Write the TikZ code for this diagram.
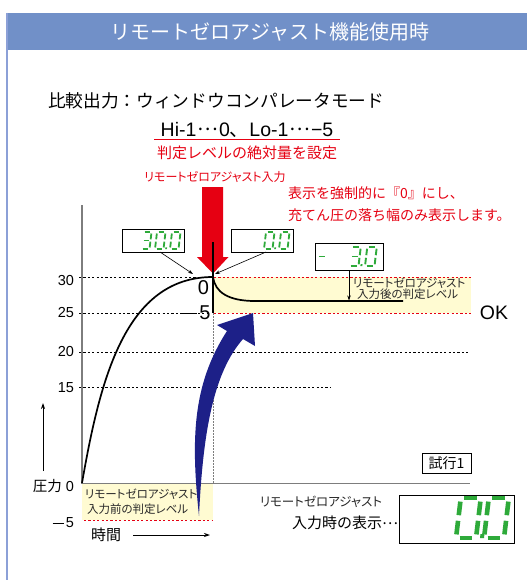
\documentclass[tikz,border=0pt]{standalone}
\usepackage{fontspec}
\setmainfont{Liberation Sans}
\newfontfamily\cjk{Noto Sans CJK JP}
\newfontfamily\cjkp[RawFeature=+palt]{Noto Sans CJK JP}
\usetikzlibrary{arrows.meta}
\definecolor{titlebg}{RGB}{113,144,200}
\definecolor{leftln}{RGB}{140,160,215}
\definecolor{jred}{RGB}{230,0,18}
\definecolor{navy}{RGB}{29,32,136}
\definecolor{band}{RGB}{255,251,210}
\definecolor{segg}{RGB}{46,170,58}
\definecolor{axgray}{RGB}{125,125,125}
\definecolor{lbl}{RGB}{40,40,40}
\newcommand\fs[1]{\fontsize{#1}{#1}\selectfont}
\newcommand\wminus{\rule[0.27em]{0.8em}{0.075em}\hspace{0.12em}}
\newcommand\mdots{\raisebox{0.3em}{\cjk …}}
% seven-segment helpers
\newcommand\sgA{\draw (0.09,-1) -- (0.41,-1);}
\newcommand\sgB{\draw (0.5,-0.91) -- (0.5,-0.57);}
\newcommand\sgC{\draw (0.5,-0.43) -- (0.5,-0.09);}
\newcommand\sgD{\draw (0.09,0) -- (0.41,0);}
\newcommand\sgE{\draw (0,-0.43) -- (0,-0.09);}
\newcommand\sgF{\draw (0,-0.91) -- (0,-0.57);}
\newcommand\sgG{\draw (0.09,-0.5) -- (0.41,-0.5);}
\newcommand\dpt{\fill (0.6,-0.1) rectangle (0.7,0);}
\newcommand\digZero{\sgA\sgB\sgC\sgD\sgE\sgF}
\newcommand\digThree{\sgA\sgB\sgC\sgD\sgG}
\newcommand\sevenseg[5]{\begin{scope}[shift={(#1,#2)},xslant=0.12,scale=#3,line width=#4,color=segg]#5\end{scope}}
\begin{document}
\begin{tikzpicture}[x=1pt,y=-1pt,
  txt/.style={inner sep=0pt,outer sep=0pt},
  disp/.style={draw=black,line width=0.9pt,fill=white,inner sep=0pt},
  dsh/.style={dash pattern=on 2.2pt off 2.2pt,line width=0.7pt},
  lead/.style={line width=0.6pt,-{Stealth[length=5pt,width=3.5pt]}},
  axis/.style={axgray,line width=1.3pt},
]
\fill[white] (0,0) rectangle (527,580);
\useasboundingbox (0,0) rectangle (527,580);

% title
\fill[titlebg] (7,13) rectangle (527,50);
\draw[leftln,line width=1.2pt] (7,13) -- (7,580);
\node[txt,text=white,font=\cjk\fs{20}] (title) at (270,32) {リモートゼロアジャスト機能使用時};

% headings
\node[txt,anchor=west,font=\cjk\fs{17.7}] (cmp) at (48,101) {比較出力：ウィンドウコンパレータモード};
\node[txt,font=\fs{19.5}] (hilo) at (247,130) {Hi-1\hspace{1pt}\mdots\hspace{1pt}0{\cjk 、}Lo-1\hspace{1pt}\mdots\hspace{1pt}−5};
\draw[jred,line width=1pt] (154,140) -- (340,140);
\node[txt,text=jred,font=\cjk\fs{15}] (abs) at (247,153) {判定レベルの絶対量を設定};
\node[txt,text=jred,font=\cjkp\fs{12}] (rzin) at (215,177) {リモートゼロアジャスト入力};
\node[txt,anchor=west,text=jred,font=\cjk\fs{14}] (note1) at (288,193) {表示を強制的に『0』にし、};
\node[txt,anchor=west,text=jred,font=\cjk\fs{14}] (note2) at (288,215) {充てん圧の落ち幅のみ表示します。};

% bands
\fill[band] (213,277) rectangle (471,313);
\fill[band] (82,483) rectangle (213,520);

% dashed level lines
\draw[dsh] (79,277) -- (210,277);
\draw[dsh] (79,313) -- (210,313);
\draw[dsh] (79,352) -- (470,352);
\draw[dsh] (79,387) -- (330,387);
\draw[dsh,jred] (214,277) -- (471,277);
\draw[dsh,jred] (214,313) -- (471,313);
\draw[dsh,jred] (84,483) -- (213,483);
\draw[dsh,jred] (84,520) -- (213,520);
\draw[axgray,line width=0.8pt,dash pattern=on 1.5pt off 1.5pt] (213,313) -- (213,483);

% axes
\draw[axis] (82,205) -- (82,484);
\draw[axis] (82,483.5) -- (470,483.5);

% curves
\draw[line width=1.7pt] (82,483) .. controls (100,380) and (125,277) .. (213,277);
\draw[line width=1.7pt] (213,277) .. controls (215,292) and (228,301) .. (255,301) -- (403,301);

% red input arrow
\fill[jred] (202,187) -- (223,187) -- (223,257) -- (228.5,257) -- (213,273.5) -- (197,257) -- (202,257) -- cycle;
\draw[line width=1.2pt] (213,242) -- (213,313);

% axis labels
\node[txt,anchor=east,font=\fs{14.5}] (l30) at (74,281) {30};
\node[txt,anchor=east,font=\fs{14.5}] (l25) at (74,313) {25};
\node[txt,anchor=east,font=\fs{14.5}] (l20) at (74,352) {20};
\node[txt,anchor=east,font=\fs{14.5}] (l15) at (74,388) {15};
\node[txt,anchor=east,font=\fs{14.5}] (l0) at (74,486) {{\cjk 圧力} 0};
\node[txt,anchor=east,font=\fs{14.5}] (lm5) at (74,523) {\wminus 5};
\node[txt,font=\fs{20}] (z0) at (203.5,288) {0};
\node[txt,anchor=east,font=\fs{20}] (zm5) at (210.5,313) {\wminus 5};
\node[txt,font=\fs{19.5}] (ok) at (494,313) {OK};
\coordinate (upb) at (43,471);
\coordinate (upt) at (43,403);
\draw[line width=0.8pt,-{Stealth[length=6pt,width=4pt]}] (upb) -- (upt);
\node[txt,font=\cjk\fs{15}] (time) at (106,535) {時間};
\coordinate (tb) at (133,535);
\coordinate (te) at (210,535);
\draw[line width=0.8pt,-{Stealth[length=6pt,width=4pt]}] (tb) -- (te);

% band labels
\node[txt,anchor=west,font=\cjkp\fs{11.5},text=lbl] (pre1) at (85,494) {リモートゼロアジャスト};
\node[txt,anchor=west,font=\cjkp\fs{11.5},text=lbl] (pre2) at (87,509) {入力前の判定レベル};
\node[txt,anchor=west,font=\cjkp\fs{11.5},text=lbl] (post1) at (353,283) {リモートゼロアジャスト};
\node[txt,anchor=west,font=\cjkp\fs{11.5},text=lbl] (post2) at (357,294.5) {入力後の判定レベル};

% displays
\node[disp,minimum width=62pt,minimum height=23pt] (d1) at (153,240.5) {};
\node[disp,minimum width=62pt,minimum height=23pt] (d2) at (262,240.5) {};
\node[disp,minimum width=68pt,minimum height=27pt] (d3) at (349,256.5) {};
\node[disp,minimum width=115pt,minimum height=48pt] (d4) at (456.5,519) {};
\sevenseg{141}{249}{17}{1.8pt}{\digThree}
\sevenseg{155}{249}{17}{1.8pt}{\digZero\dpt}
\sevenseg{170}{249}{17}{1.8pt}{\digZero}
\sevenseg{264}{249}{17}{1.8pt}{\digZero\dpt}
\sevenseg{279}{249}{17}{1.8pt}{\digZero}
\sevenseg{316}{266}{19}{1.8pt}{\sgG}
\sevenseg{349}{266}{19}{1.9pt}{\digThree\dpt}
\sevenseg{365}{266}{19}{1.9pt}{\digZero}
\sevenseg{456}{538}{40}{4.6pt}{\digZero\dpt}
\sevenseg{484}{538}{40}{4.6pt}{\digZero}

% leaders
\coordinate (s1) at (160,252);
\coordinate (pk1) at (193,274);
\coordinate (s2) at (266,252);
\coordinate (pk2) at (215,274);
\draw[lead] (s1) -- (pk1);
\draw[lead] (s2) -- (pk2);
\draw[lead] (d3.south) -- ++(0,30);

% trial box and bottom display label
\node[draw,line width=0.9pt,inner sep=0pt,minimum width=49pt,minimum height=20pt,font=\cjk\fs{14}] (trial) at (446.5,463) {試行1};
\node[txt,font=\cjkp\fs{12.5},text=lbl] (disp1) at (321,502) {リモートゼロアジャスト};
\node[txt,anchor=east,font=\cjk\fs{15}] (disp2) at (398,523) {入力時の表示\mdots};

% blue arrow
\fill[navy] (253,313) -- (255,346) -- (243,339) .. controls (214,372) and (203,430) .. (199,516) .. controls (191,440) and (192,385) .. (227,331) -- (217,325) -- cycle;
\end{tikzpicture}
\end{document}
